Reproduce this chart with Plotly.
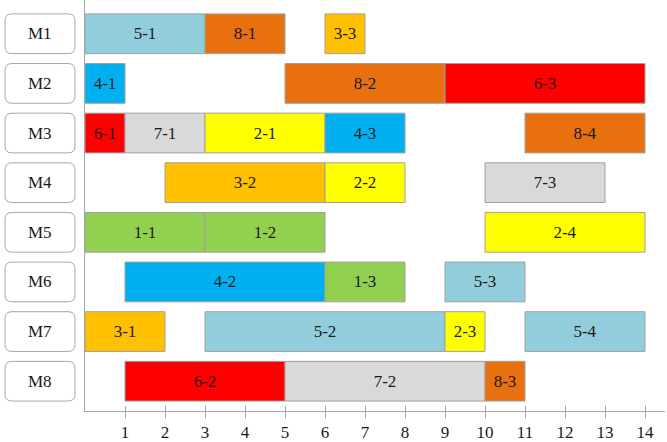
import plotly.graph_objects as go

machines = ["M1", "M2", "M3", "M4", "M5", "M6", "M7", "M8"]
task_machine = ["M1", "M1", "M1",
                "M2", "M2", "M2",
                "M3", "M3", "M3", "M3", "M3",
                "M4", "M4", "M4",
                "M5", "M5", "M5",
                "M6", "M6", "M6",
                "M7", "M7", "M7", "M7",
                "M8", "M8", "M8"]
task_label = ["5-1", "8-1", "3-3",
              "4-1", "8-2", "6-3",
              "6-1", "7-1", "2-1", "4-3", "8-4",
              "3-2", "2-2", "7-3",
              "1-1", "1-2", "2-4",
              "4-2", "1-3", "5-3",
              "3-1", "5-2", "2-3", "5-4",
              "6-2", "7-2", "8-3"]
task_start = [0, 3, 6,
              0, 5, 9,
              0, 1, 3, 6, 11,
              2, 6, 10,
              0, 3, 10,
              1, 6, 9,
              0, 3, 9, 11,
              1, 5, 10]
task_end = [3, 5, 7,
            1, 9, 14,
            1, 3, 6, 8, 14,
            6, 8, 13,
            3, 6, 14,
            6, 8, 11,
            2, 9, 10, 14,
            5, 10, 11]
job_colors = {"1": "#92D050", "2": "#FFFF00", "3": "#FFC000", "4": "#00B0F0",
              "5": "#92CDDC", "6": "#FF0000", "7": "#D9D9D9", "8": "#E8700E"}
x_ticks = list(range(1, 15))

FONT = "Times New Roman"

mi = {m: i for i, m in enumerate(machines)}
fig = go.Figure()
fig.add_trace(go.Bar(
    orientation="h",
    y=[mi[m] for m in task_machine],
    base=task_start,
    x=[e - s for s, e in zip(task_start, task_end)],
    width=0.8,
    marker=dict(color=[job_colors[l.split("-")[0]] for l in task_label],
                line=dict(color="#A0A0A0", width=1)),
    text=task_label,
    textposition="inside",
    insidetextanchor="middle",
    textangle=0,
    constraintext="none",
    textfont=dict(family=FONT, size=17, color="#1a1a1a"),
    hoverinfo="skip",
    showlegend=False,
))

W, H = 667, 442
ml, mr, mt, mb = 85, 2, 0, 28
pw = W - ml - mr

shapes = []
annotations = []
x0p = (5 - ml) / pw
x1p = (75 - ml) / pw
rx = 7 / pw
ry = 7 / 50
for m in machines:
    c = mi[m]
    y0, y1 = c - 0.4, c + 0.4
    path = (f"M {x0p+rx},{y0} L {x1p-rx},{y0} Q {x1p},{y0} {x1p},{y0+ry} "
            f"L {x1p},{y1-ry} Q {x1p},{y1} {x1p-rx},{y1} "
            f"L {x0p+rx},{y1} Q {x0p},{y1} {x0p},{y1-ry} "
            f"L {x0p},{y0+ry} Q {x0p},{y0} {x0p+rx},{y0} Z")
    shapes.append(dict(type="path", path=path, xref="paper", yref="y",
                       line=dict(color="#A6A6A6", width=1), fillcolor="white", layer="above"))
    annotations.append(dict(x=(x0p + x1p) / 2, y=c, xref="paper", yref="y", text=m,
                            showarrow=False, xanchor="center", yanchor="middle",
                            font=dict(family=FONT, size=17, color="#1a1a1a")))

fig.update_layout(
    width=W, height=H,
    margin=dict(l=ml, r=mr, t=mt, b=mb),
    plot_bgcolor="white", paper_bgcolor="white",
    font=dict(family=FONT),
    bargap=0.2,
    shapes=shapes, annotations=annotations,
    xaxis=dict(range=[0, 14.5], tickvals=x_ticks, ticktext=[str(t) for t in x_ticks],
               showgrid=False, zeroline=False, showline=True, linecolor="#A6A6A6", linewidth=1,
               ticks="outside", ticklen=6, tickcolor="#A6A6A6",
               tickfont=dict(family=FONT, size=17, color="#1a1a1a")),
    xaxis2=dict(range=[0, 14.5], tickvals=x_ticks, overlaying="x", side="bottom",
                showgrid=False, zeroline=False, showline=False, showticklabels=False,
                ticks="inside", ticklen=5, tickcolor="#A6A6A6"),
    yaxis=dict(range=[7.6, -0.68], showgrid=False, zeroline=False, showticklabels=False,
               showline=True, linecolor="#A6A6A6", linewidth=1, ticks=""),
)
fig.add_trace(go.Scatter(x=[None], y=[None], xaxis="x2", showlegend=False, hoverinfo="skip"))
fig.write_html("out.html")
